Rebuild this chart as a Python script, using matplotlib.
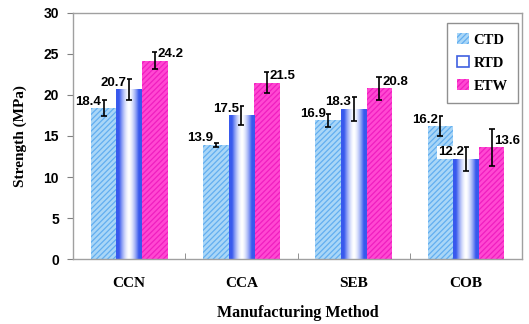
import numpy as np
import matplotlib.pyplot as plt
from matplotlib.patches import Patch

# strength by manufacturing method and conditioning
methods = ["CCN", "CCA", "SEB", "COB"]
series = ["CTD", "RTD", "ETW"]
ctd = [18.4, 13.9, 16.9, 16.2]
rtd = [20.7, 17.5, 18.3, 12.2]
etw = [24.2, 21.5, 20.8, 13.6]
ctd_err = [1.0, 0.3, 0.8, 1.2]
rtd_err = [1.3, 1.15, 1.5, 1.45]
etw_err = [1.0, 1.3, 1.35, 2.2]
yticks = [0, 5, 10, 15, 20, 25, 30]

serif = "Liberation Serif"
sans = "Liberation Sans"

fig = plt.figure(figsize=(5.29, 3.24), dpi=100)
ax = fig.add_axes([0.138, 0.2006, 0.849, 0.7593])

x = np.arange(len(methods))
w = 0.228

plt.rcParams['hatch.linewidth'] = 0.9

b1 = ax.bar(x - w, ctd, w, color="#a9d6f7", edgecolor="#62aef0",
            linewidth=0, hatch="//////", zorder=2)
b2 = ax.bar(x, rtd, w, color="none", linewidth=0, zorder=2)
b3 = ax.bar(x + w, etw, w, color="#ff48d2", edgecolor="#f01ec0",
            linewidth=0, hatch="//////", zorder=2)

# blue-white-blue shading on the RTD bars
prof = np.abs(np.linspace(-1, 1, 64))
prof = np.clip(prof * 1.3, 0, 1) ** 1.6
grad = np.zeros((1, 64, 3))
blue = np.array([0.22, 0.35, 0.93])
for i in range(64):
    grad[0, i] = (1 - prof[i]) * np.ones(3) + prof[i] * blue
for rect in b2:
    x0, y0 = rect.get_x(), rect.get_y()
    im = ax.imshow(grad, extent=[x0, x0 + rect.get_width(), y0, y0 + rect.get_height()],
                   aspect="auto", zorder=2, interpolation="bilinear")
    im.set_clip_path(rect)

ax.errorbar(x - w, ctd, yerr=ctd_err, fmt="none", ecolor="black", elinewidth=1.2,
            capsize=2, capthick=1.2, zorder=3)
ax.errorbar(x, rtd, yerr=rtd_err, fmt="none", ecolor="black", elinewidth=1.2,
            capsize=2, capthick=1.2, zorder=3)
ax.errorbar(x + w, etw, yerr=etw_err, fmt="none", ecolor="black", elinewidth=1.2,
            capsize=2, capthick=1.2, zorder=3)

lbl = dict(fontsize=9.5, fontweight="bold", family=sans, va="center", zorder=4,
           bbox=dict(fc="white", ec="none", pad=0.3))
for i in range(len(methods)):
    ax.text(x[i] - w - 0.02, ctd[i] + 0.8, f"{ctd[i]:.1f}", ha="right", **lbl)
    ax.text(x[i] - 0.02, rtd[i] + 0.8, f"{rtd[i]:.1f}", ha="right", **lbl)
    ax.text(x[i] + w + 0.025, etw[i] + 0.8, f"{etw[i]:.1f}", ha="left", **lbl)

ax.set_xlim(-0.5, 3.5)
ax.set_ylim(0, 30)
ax.set_yticks(yticks)
ax.set_xticks(x)
ax.set_xticklabels(methods, family=serif, fontweight="bold", fontsize=11)
ax.set_xticks([0.5, 1.5, 2.5], minor=True)
ax.tick_params(axis="x", which="major", length=0, pad=13)
ax.tick_params(axis="x", which="minor", direction="in", length=4, color="#808080")
ax.tick_params(axis="y", length=4, pad=6, color="#808080")
for t in ax.get_yticklabels():
    t.set_fontweight("bold")
    t.set_family(sans)
    t.set_fontsize(10)

for s in ax.spines.values():
    s.set_color("#a0a0a0")
    s.set_linewidth(1.0)

ax.set_xlabel("Manufacturing Method", family=serif, fontweight="bold", fontsize=11.5,
              labelpad=11)
ax.set_ylabel("Strength (MPa)", family=serif, fontweight="bold", fontsize=11,
              labelpad=12)

handles = [Patch(facecolor="#a9d6f7", edgecolor="#62aef0", hatch="//////", linewidth=0),
           Patch(facecolor="white", edgecolor="#4060e0", linewidth=1.2),
           Patch(facecolor="#ff48d2", edgecolor="#f01ec0", hatch="//////", linewidth=0)]
leg = ax.legend(handles, series, loc="upper right", bbox_to_anchor=(0.99, 0.96),
                borderaxespad=0,
                prop=dict(family=serif, weight="bold", size=10.5),
                handlelength=0.8, handleheight=0.8, handletextpad=0.3,
                labelspacing=0.65, borderpad=0.7, fancybox=False, framealpha=1)
leg.get_frame().set_edgecolor("#909090")
leg.get_frame().set_linewidth(1.0)

plt.savefig("out.png", dpi=100)
